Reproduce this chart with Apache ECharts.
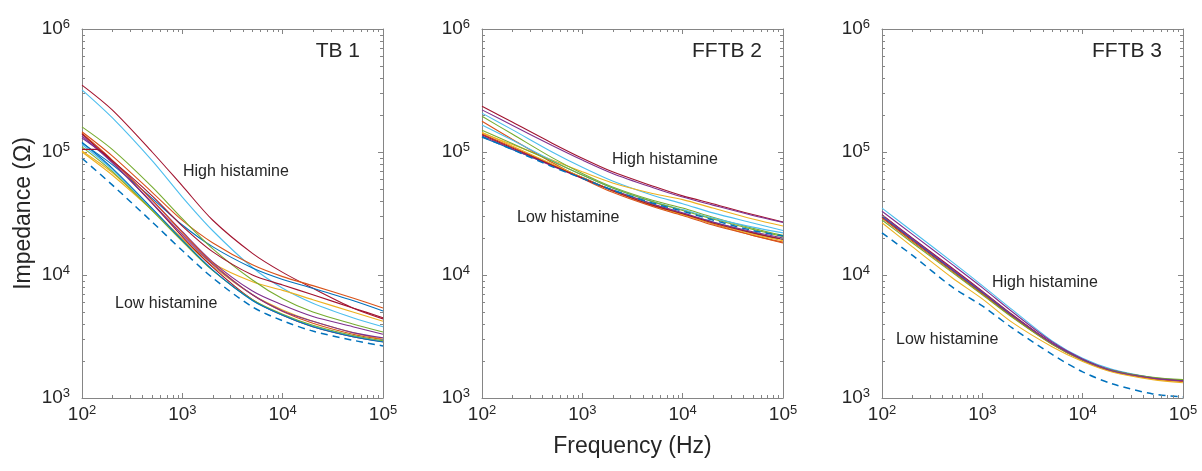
<!DOCTYPE html>
<html>
<head>
<meta charset="utf-8">
<script src="https://cdn.jsdelivr.net/npm/echarts@6/dist/echarts.min.js"></script>
<style>
  html, body { margin: 0; padding: 0; background: #fff; }
  #chart-container { width: 1202px; height: 471px; }
</style>
</head>
<body>
<div id="chart-container"></div>
<script>
var dom = document.getElementById("chart-container");
var myChart = echarts.init(dom, null, { renderer: "canvas" });

var freq = [100, 200, 500, 1000, 2000, 5000, 10000, 20000, 50000, 100000];
var kinkFreq = [100, 140, 200, 500, 1000, 2000, 5000, 10000, 20000, 50000, 100000];

// TB 1 impedances (ohm)
var tb1Curves = [
  [3.5e5, 2.2e5, 1.0e5, 5.3e4, 2.8e4, 1.5e4, 1.05e4, 7.8e3, 5.4e3, 4.4e3],
  [3.2e5, 1.9e5, 8.5e4, 4.3e4, 2.3e4, 1.15e4, 7.8e3, 5.9e3, 4.5e3, 3.8e3],
  [1.46e5, 9.3e4, 4.7e4, 2.78e4, 1.83e4, 1.21e4, 9.7e3, 8.2e3, 6.5e3, 5.4e3],
  [1.18e5, 7.9e4, 4.2e4, 2.55e4, 1.7e4, 1.14e4, 9.2e3, 7.8e3, 6.2e3, 5.1e3],
  [1.02e5, 6.8e4, 3.4e4, 1.98e4, 1.25e4, 8.8e3, 7.5e3, 6.3e3, 5.0e3, 4.2e3],
  [1.6e5, 1.05e5, 5.2e4, 2.87e4, 1.64e4, 9.1e3, 6.4e3, 5.0e3, 4.0e3, 3.44e3],
  [1.3e5, 8.5e4, 4.06e4, 2.25e4, 1.28e4, 7.4e3, 5.7e3, 4.6e3, 3.8e3, 3.3e3],
  [1.0e5, 6.5e4, 3.36e4, 1.95e4, 1.18e4, 6.9e3, 5.2e3, 4.2e3, 3.4e3, 3.0e3],
  [1.42e5, 8.6e4, 4.06e4, 2.21e4, 1.25e4, 6.9e3, 5.05e3, 4.05e3, 3.3e3, 2.98e3],
  [1.4e5, 8.3e4, 3.82e4, 2.05e4, 1.16e4, 6.3e3, 4.7e3, 3.8e3, 3.15e3, 2.87e3],
  [1.15e5, 7.2e4, 3.45e4, 1.91e4, 1.1e4, 6.2e3, 4.75e3, 3.85e3, 3.2e3, 2.9e3],
  [1.1e5, 6.95e4, 3.34e4, 1.88e4, 1.09e4, 6.3e3, 4.8e3, 3.9e3, 3.22e3, 2.92e3],
  [1.2e5, 7.4e4, 3.48e4, 1.92e4, 1.1e4, 6.2e3, 4.7e3, 3.8e3, 3.15e3, 2.85e3],
  [1.35e5, 8.2e4, 3.86e4, 2.13e4, 1.22e4, 6.9e3, 5.1e3, 4.2e3, 3.4e3, 3.08e3]
];
var tb1Kink = [1.05e5, 1.05e5, 8.5e4, 4.4e4, 2.5e4, 1.55e4, 1.0e4, 8.3e3, 6.9e3, 5.4e3, 4.5e3];
var tb1Dashed = [8.9e4, 5.4e4, 2.7e4, 1.58e4, 9.5e3, 5.5e3, 4.25e3, 3.5e3, 2.95e3, 2.65e3];

// FFTB 2 impedances (ohm)
var fftb2Curves = [
  [2.35e5, 1.75e5, 1.18e5, 8.9e4, 6.9e4, 5.3e4, 4.4e4, 3.8e4, 3.1e4, 2.7e4],
  [2.2e5, 1.65e5, 1.13e5, 8.6e4, 6.7e4, 5.15e4, 4.3e4, 3.7e4, 3.05e4, 2.68e4],
  [2.07e5, 1.52e5, 1.0e5, 7.5e4, 5.8e4, 4.45e4, 3.8e4, 3.2e4, 2.65e4, 2.3e4],
  [1.43e5, 1.15e5, 8.6e4, 6.9e4, 5.6e4, 4.6e4, 4.1e4, 3.5e4, 2.85e4, 2.5e4],
  [1.95e5, 1.4e5, 9.0e4, 6.7e4, 5.2e4, 4.05e4, 3.5e4, 2.95e4, 2.4e4, 2.1e4],
  [1.78e5, 1.27e5, 8.2e4, 6.1e4, 4.7e4, 3.6e4, 3.05e4, 2.55e4, 2.1e4, 1.82e4],
  [1.66e5, 1.25e5, 8.5e4, 6.5e4, 5.1e4, 3.95e4, 3.4e4, 2.9e4, 2.45e4, 2.2e4],
  [1.32e5, 1.05e5, 7.8e4, 6.2e4, 4.9e4, 3.75e4, 3.15e4, 2.7e4, 2.2e4, 1.95e4],
  [1.35e5, 1.06e5, 7.7e4, 6.1e4, 4.9e4, 3.8e4, 3.2e4, 2.7e4, 2.25e4, 2.0e4],
  [1.4e5, 1.1e5, 7.9e4, 6.2e4, 4.85e4, 3.65e4, 3.1e4, 2.6e4, 2.1e4, 1.85e4],
  [1.45e5, 1.12e5, 8.0e4, 6.2e4, 4.85e4, 3.7e4, 3.1e4, 2.62e4, 2.15e4, 1.9e4],
  [1.38e5, 1.08e5, 7.8e4, 6.15e4, 4.85e4, 3.7e4, 3.15e4, 2.65e4, 2.2e4, 1.95e4],
  [1.5e5, 1.17e5, 8.4e4, 6.5e4, 5.1e4, 3.95e4, 3.35e4, 2.85e4, 2.35e4, 2.05e4]
];
var fftb2Dashed = [1.33e5, 1.05e5, 7.6e4, 6.1e4, 4.9e4, 3.85e4, 3.3e4, 2.8e4, 2.3e4, 2.08e4];

// FFTB 3 impedances (ohm)
var fftb3Curves = [
  [3.5e4, 2.27e4, 1.28e4, 8.2e3, 5.2e3, 2.9e3, 2.1e3, 1.7e3, 1.47e3, 1.4e3],
  [3.3e4, 2.15e4, 1.22e4, 7.9e3, 5.0e3, 2.85e3, 2.08e3, 1.68e3, 1.46e3, 1.39e3],
  [3.1e4, 2.0e4, 1.14e4, 7.4e3, 4.75e3, 2.78e3, 2.05e3, 1.66e3, 1.45e3, 1.38e3],
  [2.95e4, 1.92e4, 1.09e4, 7.1e3, 4.6e3, 2.75e3, 2.04e3, 1.66e3, 1.45e3, 1.38e3],
  [3.0e4, 1.95e4, 1.1e4, 7.2e3, 4.65e3, 2.76e3, 2.04e3, 1.65e3, 1.44e3, 1.37e3],
  [2.9e4, 1.88e4, 1.07e4, 7.0e3, 4.55e3, 2.72e3, 2.02e3, 1.64e3, 1.43e3, 1.36e3],
  [2.8e4, 1.83e4, 1.05e4, 6.9e3, 4.5e3, 2.72e3, 2.03e3, 1.67e3, 1.47e3, 1.41e3],
  [2.66e4, 1.7e4, 9.5e3, 6.4e3, 4.1e3, 2.6e3, 1.98e3, 1.62e3, 1.41e3, 1.33e3],
  [3.05e4, 1.98e4, 1.12e4, 7.3e3, 4.7e3, 2.77e3, 2.05e3, 1.66e3, 1.45e3, 1.38e3]
];
var fftb3Dashed = [2.2e4, 1.45e4, 8.0e3, 5.6e3, 3.7e3, 2.25e3, 1.63e3, 1.3e3, 1.08e3, 1.02e3];

var panelTitles = ["TB 1", "FFTB 2", "FFTB 3"];

// MATLAB colour order and which colour each curve uses
var palette = ["#0072BD", "#D95319", "#EDB120", "#7E2F8E", "#77AC30", "#4DBEEE", "#A2142F"];
var tb1Colors = [6, 5, 1, 0, 2, 4, 3, 2, 1, 6, 5, 4, 0, 3];
var fftb2Colors = [6, 3, 5, 2, 4, 1, 5, 0, 3, 1, 2, 6, 4];
var fftb3Colors = [5, 3, 6, 6, 0, 1, 4, 2, 3];

var axisColor = "#858585";
var textColor = "#262626";
var fontFamily = "'Liberation Sans', Arial, sans-serif";
var gridLefts = [82, 482, 882];

function pairs(xs, ys) {
  return ys.map(function (v, i) { return [xs[i], v]; });
}

function powLabel(v) {
  return "{b|10}{s|" + Math.round(Math.log10(v)) + "}";
}

var labelRich = {
  b: { fontSize: 19, color: textColor, fontFamily: fontFamily },
  s: { fontSize: 13, color: textColor, fontFamily: fontFamily, padding: [0, 0, 9, 0] }
};

function makeX(i, top) {
  return {
    type: "log", logBase: 10, gridIndex: i, min: 100, max: 100000,
    position: top ? "top" : "bottom",
    axisLine: { show: true, lineStyle: { color: axisColor, width: 1 } },
    axisTick: { show: true, inside: true, length: 5, lineStyle: { color: axisColor } },
    axisLabel: { show: !top, margin: 6, formatter: powLabel, rich: labelRich },
    splitLine: { show: false },
    name: i === 1 && !top ? "Frequency (Hz)" : "",
    nameLocation: "middle",
    nameGap: 37,
    nameTextStyle: { fontSize: 23, color: textColor, fontFamily: fontFamily }
  };
}

function makeY(i, right) {
  return {
    type: "log", logBase: 10, gridIndex: i, min: 1000, max: 1000000,
    position: right ? "right" : "left",
    axisLine: { show: true, lineStyle: { color: axisColor, width: 1 } },
    axisTick: { show: true, inside: true, length: 5, lineStyle: { color: axisColor } },
    axisLabel: { show: !right, margin: 12, formatter: powLabel, rich: labelRich },
    splitLine: { show: false },
    name: i === 0 && !right ? "Impedance (\u03A9)" : "",
    nameLocation: "middle",
    nameGap: 47,
    nameTextStyle: { fontSize: 23, color: textColor, fontFamily: fontFamily }
  };
}

// minor tick positions at 2..9 of each decade
var minorTicks = [];
[100, 1000, 10000].forEach(function (d) {
  for (var k = 2; k <= 9; k++) minorTicks.push([d * k, 1000, 0]);
});
[1000, 10000, 100000].forEach(function (d) {
  for (var k = 2; k <= 9; k++) minorTicks.push([100, d * k, 1]);
});

function renderMinor(params, api) {
  var cs = params.coordSys;
  var p = api.coord([api.value(0), api.value(1)]);
  var len = 3;
  var style = { stroke: axisColor, lineWidth: 1 };
  if (api.value(2) === 0) {
    var x = Math.round(p[0]) + 0.5;
    return {
      type: "group",
      children: [
        { type: "line", shape: { x1: x, y1: cs.y + cs.height, x2: x, y2: cs.y + cs.height - len }, style: style },
        { type: "line", shape: { x1: x, y1: cs.y, x2: x, y2: cs.y + len }, style: style }
      ]
    };
  }
  var y = Math.round(p[1]) + 0.5;
  return {
    type: "group",
    children: [
      { type: "line", shape: { x1: cs.x, y1: y, x2: cs.x + len, y2: y }, style: style },
      { type: "line", shape: { x1: cs.x + cs.width, y1: y, x2: cs.x + cs.width - len, y2: y }, style: style }
    ]
  };
}

function curveSeries(i, data, color, dashed) {
  return {
    type: "line",
    xAxisIndex: i * 2,
    yAxisIndex: i * 2,
    data: data,
    smooth: 0.3,
    symbol: "none",
    silent: true,
    lineStyle: dashed
      ? { color: palette[0], width: 1.5, type: [7, 5] }
      : { color: color, width: 1.1 },
    z: dashed ? 4 : 3
  };
}

var grids = [], xAxes = [], yAxes = [], series = [];
gridLefts.forEach(function (left, i) {
  grids.push({ left: left, top: 29, width: 301, height: 369 });
  xAxes.push(makeX(i, false), makeX(i, true));
  yAxes.push(makeY(i, false), makeY(i, true));
  series.push({
    type: "custom",
    xAxisIndex: i * 2,
    yAxisIndex: i * 2,
    data: minorTicks,
    renderItem: renderMinor,
    silent: true,
    z: 5
  });
});

tb1Curves.forEach(function (c, k) {
  series.push(curveSeries(0, pairs(freq, c), palette[tb1Colors[k]], false));
});
series.push(curveSeries(0, pairs(kinkFreq, tb1Kink), palette[6], false));
series.push(curveSeries(0, pairs(freq, tb1Dashed), null, true));

fftb2Curves.forEach(function (c, k) {
  series.push(curveSeries(1, pairs(freq, c), palette[fftb2Colors[k]], false));
});
series.push(curveSeries(1, pairs(freq, fftb2Dashed), null, true));

fftb3Curves.forEach(function (c, k) {
  series.push(curveSeries(2, pairs(freq, c), palette[fftb3Colors[k]], false));
});
series.push(curveSeries(2, pairs(freq, fftb3Dashed), null, true));

function label(text, x, y, size, align) {
  return {
    type: "text",
    x: x,
    y: y,
    z: 10,
    style: {
      text: text,
      fill: textColor,
      font: size + "px " + fontFamily,
      align: align,
      verticalAlign: "middle"
    }
  };
}

var graphics = [
  label(panelTitles[0], 360, 51, 21, "right"),
  label(panelTitles[1], 762, 51, 21, "right"),
  label(panelTitles[2], 1162, 51, 21, "right"),
  label("High histamine", 183, 172, 16, "left"),
  label("Low histamine", 115, 304, 16, "left"),
  label("High histamine", 612, 160, 16, "left"),
  label("Low histamine", 517, 218, 16, "left"),
  label("High histamine", 992, 283, 16, "left"),
  label("Low histamine", 896, 340, 16, "left")
];

var option = {
  animation: false,
  backgroundColor: "#ffffff",
  grid: grids,
  xAxis: xAxes,
  yAxis: yAxes,
  series: series,
  graphic: graphics
};

myChart.setOption(option);

window.addEventListener("resize", function () {
  myChart.resize();
});
</script>
</body>
</html>
